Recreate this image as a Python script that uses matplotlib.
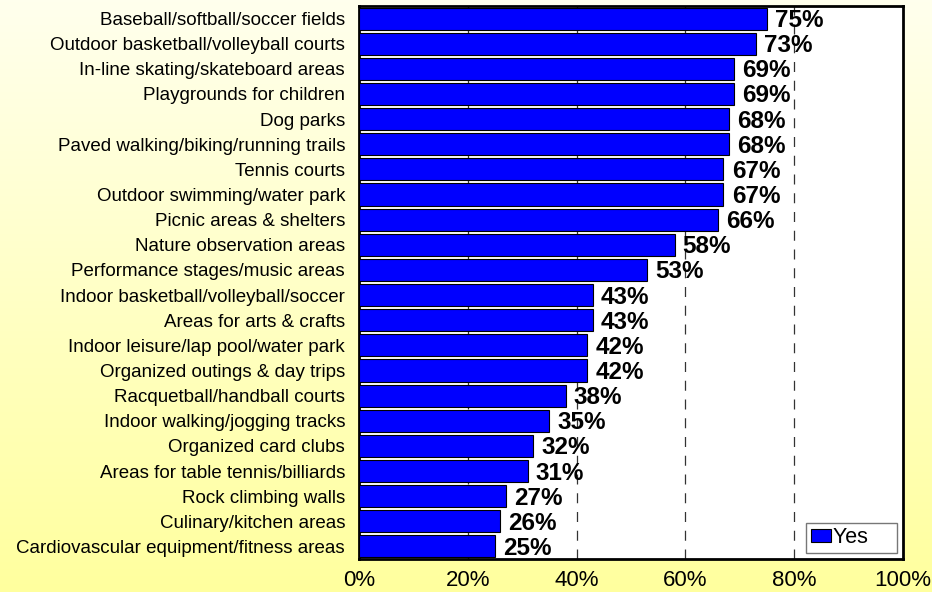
import matplotlib.pyplot as plt
import numpy as np

plt.rcParams['font.family'] = ['Liberation Sans', 'DejaVu Sans']

amenities = [
    "Baseball/softball/soccer fields",
    "Outdoor basketball/volleyball courts",
    "In-line skating/skateboard areas",
    "Playgrounds for children",
    "Dog parks",
    "Paved walking/biking/running trails",
    "Tennis courts",
    "Outdoor swimming/water park",
    "Picnic areas & shelters",
    "Nature observation areas",
    "Performance stages/music areas",
    "Indoor basketball/volleyball/soccer",
    "Areas for arts & crafts",
    "Indoor leisure/lap pool/water park",
    "Organized outings & day trips",
    "Racquetball/handball courts",
    "Indoor walking/jogging tracks",
    "Organized card clubs",
    "Areas for table tennis/billiards",
    "Rock climbing walls",
    "Culinary/kitchen areas",
    "Cardiovascular equipment/fitness areas",
]
yes_pct = [75, 73, 69, 69, 68, 68, 67, 67, 66, 58, 53, 43, 43, 42, 42, 38, 35, 32, 31, 27, 26, 25]
x_ticks = [0, 20, 40, 60, 80, 100]

fig = plt.figure(figsize=(9.32, 5.92), dpi=100)

# yellow gradient backdrop, pale at the top
bg = fig.add_axes([0, 0, 1, 1], zorder=-10)
grad = np.linspace(0, 1, 256).reshape(-1, 1)
top = np.array([1.0, 1.0, 0.93])
bot = np.array([1.0, 1.0, 0.62])
img = top + (bot - top) * grad[:, :, None]
bg.imshow(img, aspect='auto', extent=[0, 1, 0, 1])
bg.axis('off')

ax = fig.add_axes([359 / 932, 33 / 592, 544 / 932, 553 / 592])
ax.set_facecolor('white')

y = np.arange(len(amenities))
ax.barh(y, yes_pct, height=0.88, color='#0000FF', edgecolor='black',
        linewidth=0.8, label='Yes', zorder=3)
for yi, v in zip(y, yes_pct):
    ax.text(v + 1.5, yi + 0.08, f"{v}%", va='center', ha='left',
            fontsize=17.5, fontweight='bold', zorder=4)

for gx in x_ticks[1:-1]:
    ax.axvline(gx, color='#333333', linestyle=(0, (8, 7)), linewidth=0.9, zorder=1)

ax.set_xlim(0, 100)
ax.set_ylim(len(amenities) - 0.5, -0.5)
ax.set_yticks(y)
ax.set_yticklabels(amenities, fontsize=13.5)
ax.set_xticks(x_ticks)
ax.set_xticklabels([f"{t}%" for t in x_ticks], fontsize=16)
ax.tick_params(axis='y', length=0, pad=10)
ax.tick_params(axis='x', length=0, pad=8)
for s in ax.spines.values():
    s.set_linewidth(2)

handles, _ = ax.get_legend_handles_labels()
leg = ax.legend(handles, ['Yes    '], loc='lower right', fontsize=15.5, frameon=True,
                fancybox=False, edgecolor='#555555', handlelength=0.95,
                handleheight=0.55, handletextpad=0.1, borderpad=0.2,
                borderaxespad=0.3)
leg.get_frame().set_linewidth(1)

fig.savefig('out.png', dpi=100)
